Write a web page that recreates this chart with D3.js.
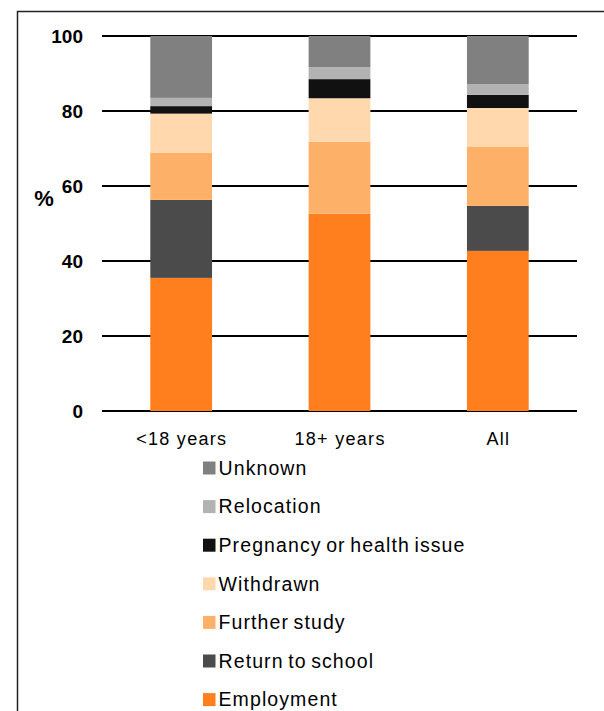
<!DOCTYPE html>
<html>
<head>
<meta charset="utf-8">
<script src="https://cdn.jsdelivr.net/npm/d3@7"></script>
<style>
  html, body { margin: 0; padding: 0; background: #fff; }
  svg { display: block; font-family: "Liberation Sans", Arial, sans-serif; }
</style>
</head>
<body>
<svg id="chart" width="604" height="711"></svg>
<script>
// Destination shares (%) by age group, stacked bottom to top
const groups = ["<18 years", "18+ years", "All"];
const seriesNames = ["Employment", "Return to school", "Further study", "Withdrawn",
                     "Pregnancy or health issue", "Relocation", "Unknown"];
const employment     = [35.5, 52.6, 42.7];
const returnToSchool = [20.8, 0.0, 12.0];
const furtherStudy   = [12.6, 19.2, 15.7];
const withdrawn      = [10.4, 11.6, 10.4];
const pregnancy      = [2.0, 5.1, 3.5];
const relocation     = [2.2, 3.2, 2.9];
const unknown        = [16.5, 8.3, 12.8];
const yTicks = [0, 20, 40, 60, 80, 100];
const colors = ["#FF7F1F", "#4B4B4B", "#FDB068", "#FFD8AE", "#111111", "#B2B2B2", "#808080"];

const seriesValues = [employment, returnToSchool, furtherStudy, withdrawn, pregnancy, relocation, unknown];
const rows = groups.map((g, i) => {
  const r = { group: g };
  seriesNames.forEach((s, k) => { r[s] = seriesValues[k][i]; });
  return r;
});

const svg = d3.select("#chart");

// outer frame
svg.append("rect")
  .attr("x", 17.5).attr("y", 11.5)
  .attr("width", 700).attr("height", 800)
  .attr("fill", "none").attr("stroke", "#222").attr("stroke-width", 1.5);

const x = d3.scaleBand().domain(groups).range([102, 577]).paddingInner(0.61).paddingOuter(0.305);
const y = d3.scaleLinear().domain([0, 100]).range([411, 36]);

// gridlines
svg.append("g").selectAll("line").data(yTicks).join("line")
  .attr("x1", 102).attr("x2", 577)
  .attr("y1", d => y(d)).attr("y2", d => y(d))
  .attr("stroke", "#000").attr("stroke-width", 2);

// y tick labels
svg.append("g").selectAll("text").data(yTicks).join("text")
  .attr("x", 83).attr("y", d => y(d)).attr("dy", "0.35em")
  .attr("text-anchor", "end")
  .attr("font-size", 19).attr("font-weight", "bold")
  .text(d => d);

svg.append("text")
  .attr("x", 44).attr("y", 198).attr("dy", "0.35em")
  .attr("text-anchor", "middle")
  .attr("font-size", 22).attr("font-weight", "bold")
  .text("%");

// stacked bars
const stacked = d3.stack().keys(seriesNames)(rows);
svg.append("g").selectAll("g").data(stacked).join("g")
  .attr("fill", (d, i) => colors[i])
  .selectAll("rect").data(d => d).join("rect")
  .attr("x", d => x(d.data.group))
  .attr("width", x.bandwidth())
  .attr("y", d => y(d[1]))
  .attr("height", d => y(d[0]) - y(d[1]));

// x axis labels
svg.append("g").selectAll("text").data(groups).join("text")
  .attr("x", d => x(d) + x.bandwidth() / 2 + 0.6).attr("y", 445)
  .attr("text-anchor", "middle")
  .attr("font-size", 18)
  .attr("letter-spacing", 1.3)
  .text(d => d);

// legend (top-down reverses stacking order)
const legendItems = seriesNames.map((s, i) => ({ name: s, color: colors[i] })).reverse();
const lg = svg.append("g").selectAll("g").data(legendItems).join("g")
  .attr("transform", (d, i) => `translate(203, ${468 + i * 38.6})`);
lg.append("rect").attr("x", 0).attr("y", -6.5).attr("width", 12.5).attr("height", 13)
  .attr("fill", d => d.color);
lg.append("text").attr("x", 15.5).attr("y", 0).attr("dy", "0.35em")
  .attr("font-size", 19.5)
  .attr("letter-spacing", 1.1)
  .attr("word-spacing", -2)
  .text(d => d.name);
</script>
</body>
</html>
